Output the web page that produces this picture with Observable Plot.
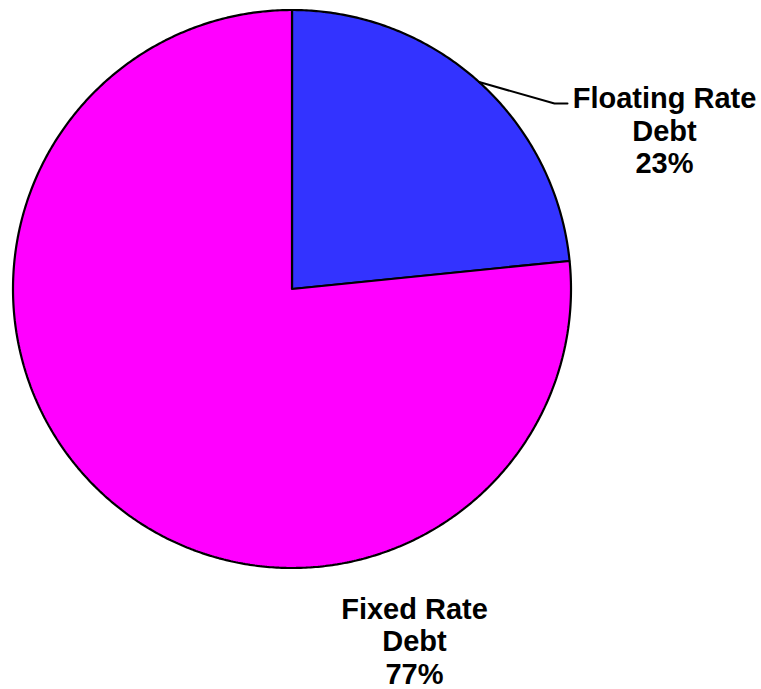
<!DOCTYPE html>
<html>
<head>
<meta charset="utf-8">
<script src="https://cdn.jsdelivr.net/npm/d3@7"></script>
<script src="https://cdn.jsdelivr.net/npm/@observablehq/plot@0.6"></script>
<style>
  body { margin: 0; background: #fff; }
</style>
</head>
<body>
<div id="chart"></div>
<script>
// Data
const categories = ["Floating Rate Debt", "Fixed Rate Debt"];
const shares = [23.4, 76.6];
const percentLabels = ["23%", "77%"];
const sliceColors = ["#3333ff", "#ff00ff"];

// Layout
const W = 761, H = 689;
const cx = 291.5, cy = 288.5, R = 279;

const total = d3.sum(shares);
let acc = 0;
const slices = categories.map((name, i) => {
  const a0 = acc / total * 2 * Math.PI;
  acc += shares[i];
  const a1 = acc / total * 2 * Math.PI;
  return {name, value: shares[i], a0, a1, color: sliceColors[i], pct: percentLabels[i]};
});

function polygon(s) {
  const pts = [{x: cx, y: cy}];
  const n = Math.max(8, Math.ceil((s.a1 - s.a0) / (Math.PI / 360)));
  for (let k = 0; k <= n; k++) {
    const a = s.a0 + (s.a1 - s.a0) * k / n;
    pts.push({x: cx + R * Math.sin(a), y: cy - R * Math.cos(a)});
  }
  pts.push({x: cx, y: cy});
  return pts;
}

// leader line for the floating slice, starting at its mid-angle on the rim
const fl = slices[0];
const mid = (fl.a0 + fl.a1) / 2;
const leader = [
  {x: cx + R * Math.sin(mid), y: cy - R * Math.cos(mid)},
  {x: 554, y: 103},
  {x: 567, y: 103}
];

const labels = [
  {x: 664, y: 84.5, text: "Floating Rate\nDebt\n" + slices[0].pct},
  {x: 414, y: 595, text: "Fixed Rate\nDebt\n" + slices[1].pct}
];

const plot = Plot.plot({
  width: W,
  height: H,
  margin: 0,
  x: {domain: [0, W], range: [0, W], axis: null},
  y: {domain: [0, H], range: [0, H], axis: null},
  style: {background: "#fff"},
  marks: [
    ...slices.map(s => Plot.line(polygon(s), {
      x: "x", y: "y", fill: s.color, stroke: "#000", strokeWidth: 2.2, strokeLinejoin: "miter", curve: "linear"
    })),
    Plot.line(leader, {x: "x", y: "y", stroke: "#000", strokeWidth: 2}),
    Plot.text(labels, {
      x: "x", y: "y", text: "text",
      fontSize: 29, fontWeight: "bold", fontFamily: "Liberation Sans, Arial, sans-serif",
      fill: "#000", textAnchor: "middle", lineAnchor: "top", lineHeight: 1.12
    })
  ]
});

document.getElementById("chart").appendChild(plot);
</script>
</body>
</html>
